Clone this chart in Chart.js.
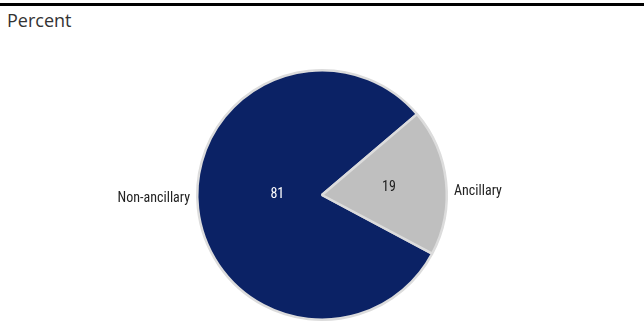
<!DOCTYPE html>
<html>
<head>
<meta charset="utf-8">
<script src="https://cdn.jsdelivr.net/npm/chart.js@4"></script>
<style>
  html, body { margin: 0; padding: 0; background: #fff; }
  #wrap { position: relative; width: 644px; height: 329px; overflow: hidden; }
  #rule { position: absolute; left: 0; top: 3px; width: 644px; height: 3px; background: #000; }
  #unit { position: absolute; left: 7px; top: 8px; font: 18px "Open Sans", "Noto Sans", sans-serif; color: #333; }
  #chart { position: absolute; left: 0; top: 0; }
</style>
</head>
<body>
<div id="wrap">
  <div id="rule"></div>
  <div id="unit">Percent</div>
  <canvas id="chart" width="644" height="329"></canvas>
</div>
<script>
// Chart data
const categories = ["Non-ancillary", "Ancillary"];
const shares = [81, 19];
const sliceColors = ["#0b2265", "#bfbfbf"];
const valueColors = ["#ffffff", "#222222"];

const labelFont = '14px "Liberation Sans Narrow", "Roboto Condensed", "Liberation Sans", sans-serif';

// Plugin for drawing values inside and category names outside the slices
const sliceLabels = {
  id: "sliceLabels",
  afterDatasetsDraw(chart, args, opts) {
    const ctx = chart.ctx;
    const meta = chart.getDatasetMeta(0);
    ctx.save();
    ctx.font = labelFont;
    ctx.textBaseline = "middle";
    meta.data.forEach(function (arc, i) {
      const p = arc.getProps(["x", "y", "startAngle", "endAngle", "outerRadius"], true);
      const mid = (p.startAngle + p.endAngle) / 2;
      const cos = Math.cos(mid);
      const sin = Math.sin(mid);

      // value inside
      const vr = p.outerRadius * opts.valueRadius[i];
      ctx.fillStyle = valueColors[i];
      ctx.textAlign = "center";
      ctx.fillText(String(shares[i]), p.x + cos * vr, p.y + sin * vr + opts.valueDy[i]);

      // category outside
      const lr = p.outerRadius + 8;
      ctx.fillStyle = "#222";
      ctx.textAlign = cos < 0 ? "right" : "left";
      ctx.fillText(categories[i], p.x + cos * lr, p.y + sin * p.outerRadius * 0.25);
    });
    ctx.restore();
  },
};

const canvasRef = document.getElementById("chart");

new Chart(canvasRef, {
  type: "pie",
  data: {
    labels: categories,
    datasets: [
      {
        data: shares,
        backgroundColor: sliceColors,
        borderColor: "#dcdcdc",
        borderWidth: 2.5,
      },
    ],
  },
  options: {
    responsive: false,
    animation: false,
    rotation: 118,
    layout: {
      padding: { top: 69, bottom: 8, left: 196, right: 196 },
    },
    plugins: {
      legend: { display: false },
      tooltip: { enabled: false },
      sliceLabels: {
        valueRadius: [0.36, 0.54],
        valueDy: [-5, 0],
      },
    },
  },
  plugins: [sliceLabels],
});
</script>
</body>
</html>
